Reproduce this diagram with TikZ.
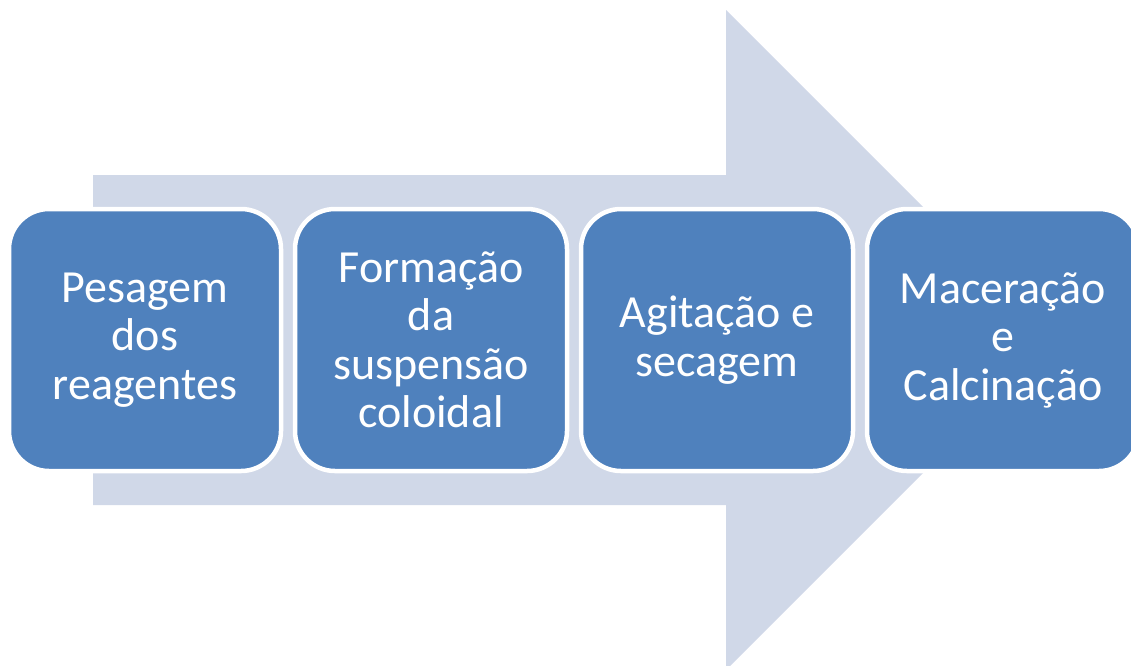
\documentclass[tikz,border=0pt]{standalone}
\usepackage{fontspec}
\setmainfont{Carlito}
\definecolor{flowbg}{HTML}{D0D8E8}
\definecolor{stepblue}{HTML}{4F81BD}
\tikzset{
  stepbox/.style={draw=white, line width=4.5pt, fill=stepblue, text=white,
    rounded corners=40pt, minimum width=272pt, minimum height=262pt,
    align=center, font=\fontsize{46}{48.5}\selectfont}
}
\begin{document}
\begin{tikzpicture}[x=1pt,y=-1pt]
      \useasboundingbox (0,0) rectangle (1131,665);
      \clip (0,0) rectangle (1131,665);
      % background arrow
      \fill[flowbg] (93,175) -- (726,175) -- (726,10) -- (1056,340)
        -- (726,670) -- (726,505) -- (93,505) -- cycle;
      % steps
      \draw
        (145,340) node[stepbox] (pes){Pesagem\\dos\\reagentes}
        (431,340) node[stepbox] (form){Formação\\da\\suspensão\\coloidal}
        (717,340) node[stepbox] (agit){Agitação e\\secagem}
        (1003,340) node[stepbox] (mac){Maceração\\e\\Calcinação};
    \end{tikzpicture}
\end{document}
